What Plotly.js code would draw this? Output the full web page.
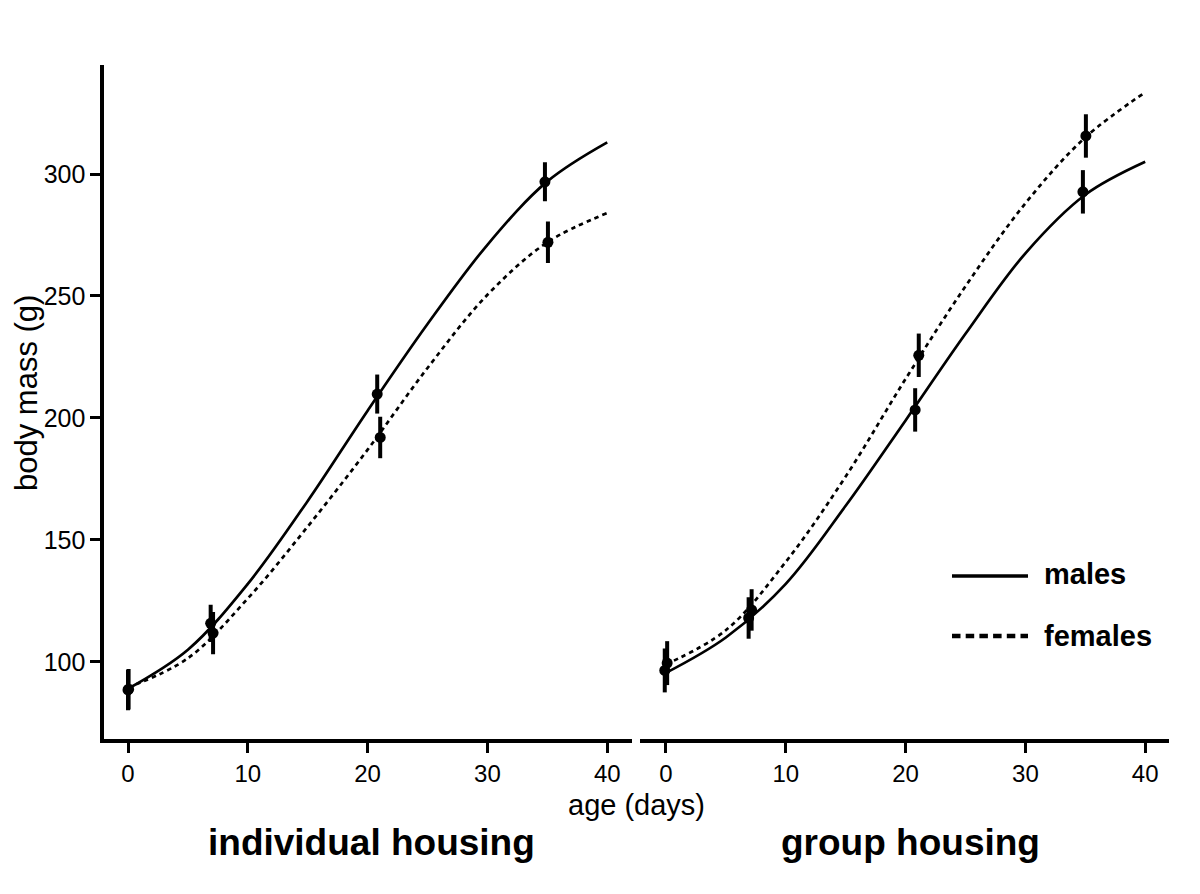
<!DOCTYPE html>
<html>
<head>
<meta charset="utf-8">
<script src="https://cdn.plot.ly/plotly-3.0.1.min.js"></script>
<style>html,body{margin:0;padding:0;background:#fff;}#chart{width:1200px;height:894px;}</style>
</head>
<body>
<div id="chart"></div>
<script>
// ---- data ----
const panelTitles = ["individual housing", "group housing"];
const seriesNames = ["males", "females"];
const yTickVals = [100, 150, 200, 250, 300];
const xTickVals = [0, 10, 20, 30, 40];

// fitted growth curves (sampled every 5 days)
const curveDays = [0, 5, 10, 15, 20, 25, 30, 35, 40];
const indMaleFit   = [89, 105, 132, 166, 203, 238.5, 271, 297, 313];
const indFemaleFit = [89.5, 101.5, 126, 155.5, 187, 220.5, 250.5, 272, 284];
const grpMaleFit   = [95.5, 110, 132, 164, 199, 234.5, 267.5, 291.5, 305];
const grpFemaleFit = [99, 113, 141, 176, 216, 254, 288, 315, 333.5];

// observed means and error bars
const indMaleDays = [0, 6.9, 20.8, 34.8];
const indMaleMass = [88.5, 115.8, 209.8, 296.8];
const indMaleErr  = [8.3, 7.6, 8.0, 8.0];
const indFemaleDays = [0.05, 7.1, 21.05, 35.05];
const indFemaleMass = [88.8, 111.8, 192, 272];
const indFemaleErr  = [8.3, 8.7, 8.5, 8.5];

const grpMaleDays = [-0.1, 6.9, 20.8, 34.8];
const grpMaleMass = [96.5, 118, 203.3, 292.7];
const grpMaleErr  = [9, 8.5, 8.9, 8.9];
const grpFemaleDays = [0.1, 7.15, 21.1, 35.05];
const grpFemaleMass = [99.5, 121.3, 225.7, 315.6];
const grpFemaleErr  = [9, 8.5, 8.9, 8.9];

// ---- styling ----
const FONT = "Liberation Sans, Arial, Helvetica, sans-serif";
const DOTTED = "4.5px,4px";

function fit(xs, ys, xa, dash) {
  return {x: xs, y: ys, xaxis: xa, yaxis: 'y', type: 'scatter', mode: 'lines',
    line: {color: '#000', width: 2.7, shape: 'spline', smoothing: 1, dash: dash},
    showlegend: false, hoverinfo: 'skip'};
}
function pts(xs, ys, err, xa) {
  return {x: xs, y: ys, xaxis: xa, yaxis: 'y', type: 'scatter', mode: 'markers',
    marker: {color: '#000', size: 11},
    error_y: {type: 'data', array: err, visible: true, color: '#000', thickness: 4, width: 0},
    showlegend: false, hoverinfo: 'skip'};
}

const data = [
  fit(curveDays, indMaleFit, 'x', 'solid'),
  fit(curveDays, indFemaleFit, 'x', DOTTED),
  fit(curveDays, grpMaleFit, 'x2', 'solid'),
  fit(curveDays, grpFemaleFit, 'x2', DOTTED),
  pts(indMaleDays, indMaleMass, indMaleErr, 'x'),
  pts(indFemaleDays, indFemaleMass, indFemaleErr, 'x'),
  pts(grpMaleDays, grpMaleMass, grpMaleErr, 'x2'),
  pts(grpFemaleDays, grpFemaleMass, grpFemaleErr, 'x2')
];

const xCommon = {
  tickvals: xTickVals, ticktext: xTickVals.map(String),
  ticks: 'outside', ticklen: 10, tickwidth: 3, tickcolor: '#000',
  showline: true, linecolor: '#000', linewidth: 4,
  showgrid: false, zeroline: false,
  tickfont: {family: FONT, size: 24, color: '#000'},
  anchor: 'y', fixedrange: true
};

const layout = {
  width: 1200, height: 894,
  margin: {l: 0, r: 0, t: 0, b: 0},
  paper_bgcolor: '#fff', plot_bgcolor: '#fff',
  showlegend: false,
  xaxis: Object.assign({}, xCommon, {domain: [0.0870, 0.5267], range: [-1.97, 42.07]}),
  xaxis2: Object.assign({}, xCommon, {domain: [0.5333, 0.9742], range: [-2.17, 41.99]}),
  yaxis: {
    domain: [0.1734, 0.9273], range: [68.4, 344.7],
    tickvals: yTickVals, ticktext: yTickVals.map(String),
    ticks: 'outside', ticklen: 10, tickwidth: 3, tickcolor: '#000',
    showline: true, linecolor: '#000', linewidth: 4,
    showgrid: false, zeroline: false,
    tickfont: {family: FONT, size: 25, color: '#000'},
    anchor: 'x', fixedrange: true
  },
  annotations: [
    {text: 'body mass (g)', xref: 'paper', yref: 'paper', x: 26/1200, y: (894-393)/894,
     textangle: -90, showarrow: false, xanchor: 'center', yanchor: 'middle',
     font: {family: FONT, size: 31, color: '#000'}},
    {text: 'age (days)', xref: 'paper', yref: 'paper', x: 636/1200, y: (894-805)/894,
     showarrow: false, xanchor: 'center', yanchor: 'middle', borderpad: 0,
     font: {family: FONT, size: 29, color: '#000'}},
    {text: '<b>' + panelTitles[0] + '</b>', xref: 'paper', yref: 'paper', x: 371/1200, y: (894-842)/894,
     showarrow: false, xanchor: 'center', yanchor: 'middle',
     font: {family: FONT, size: 37, color: '#000'}},
    {text: '<b>' + panelTitles[1] + '</b>', xref: 'paper', yref: 'paper', x: 910/1200, y: (894-842)/894,
     showarrow: false, xanchor: 'center', yanchor: 'middle',
     font: {family: FONT, size: 37, color: '#000'}},
    {text: '<b>' + seriesNames[0] + '</b>', xref: 'paper', yref: 'paper', x: 1042/1200, y: (894-574)/894,
     showarrow: false, xanchor: 'left', yanchor: 'middle',
     font: {family: FONT, size: 29, color: '#000'}},
    {text: '<b>' + seriesNames[1] + '</b>', xref: 'paper', yref: 'paper', x: 1042/1200, y: (894-636)/894,
     showarrow: false, xanchor: 'left', yanchor: 'middle',
     font: {family: FONT, size: 29, color: '#000'}}
  ],
  shapes: [
    {type: 'line', xref: 'paper', yref: 'paper', x0: 952/1200, x1: 1028/1200,
     y0: (894-576)/894, y1: (894-576)/894, line: {color: '#000', width: 3.5}},
    {type: 'line', xref: 'paper', yref: 'paper', x0: 952/1200, x1: 1028/1200,
     y0: (894-636)/894, y1: (894-636)/894, line: {color: '#000', width: 4.5, dash: '8.5px,5.2px'}}
  ]
};

Plotly.newPlot('chart', data, layout, {staticPlot: true, displayModeBar: false});
</script>
</body>
</html>
